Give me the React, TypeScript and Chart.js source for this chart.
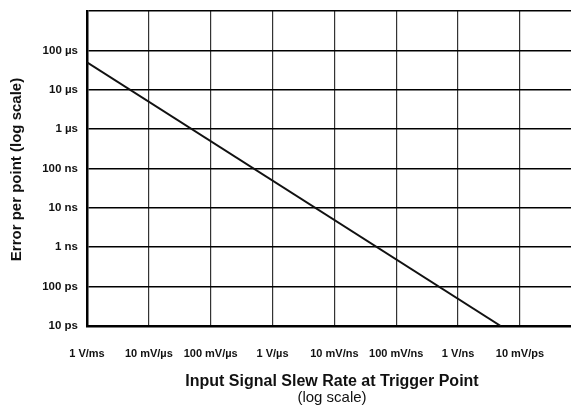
import React, { useEffect, useRef } from "react";
import { Chart, registerables } from "chart.js";

Chart.register(...registerables);

// Data (log-log straight line)
const slewRates = [1e3, 4.9e9]; // V/s
const errorPerPoint = [5e-5, 1e-11]; // s

// Axis tick positions and labels
const xTickValues = [1e3, 1e4, 1e5, 1e6, 1e7, 1e8, 1e9, 1e10];
const xTickLabels = ["1 V/ms", "10 mV/\u00b5s", "100 mV/\u00b5s", "1 V/\u00b5s", "10 mV/ns", "100 mV/ns", "1 V/ns", "10 mV/ps"];
const yTickValues = [1e-11, 1e-10, 1e-9, 1e-8, 1e-7, 1e-6, 1e-5, 1e-4, 1e-3];
const yTickLabels = ["10 ps", "100 ps", "1 ns", "10 ns", "100 ns", "1 \u00b5s", "10 \u00b5s", "100 \u00b5s", ""];

const xMin = 1e3;
const xMax = 6.7e10;
const yMin = 1e-11;
const yMax = 1e-3;

const xTitle = "Input Signal Slew Rate at Trigger Point";
const xSubTitle = "(log scale)";
const yTitle = "Error per point (log scale)";

const FONT = "'Liberation Sans', Arial, Helvetica, sans-serif";

const titlePlugin = {
  id: "titles",
  afterDraw(chart: any) {
    const ctx = chart.ctx;
    const area = chart.chartArea;
    ctx.save();
    ctx.fillStyle = "#111";
    ctx.textAlign = "center";
    ctx.textBaseline = "middle";
    const cx = 332;
    ctx.font = `bold 16px ${FONT}`;
    ctx.fillText(xTitle, cx, 382);
    ctx.font = `15px ${FONT}`;
    ctx.fillText(xSubTitle, cx, 398);
    ctx.translate(17, (area.top + area.bottom) / 2 + 1);
    ctx.rotate(-Math.PI / 2);
    ctx.font = `bold 15px ${FONT}`;
    ctx.fillText(yTitle, 0, 0);
    ctx.restore();
  },
};

export default function App() {
  const ref = useRef<HTMLCanvasElement>(null);
  useEffect(() => {
    document.body.style.margin = "0";
    const canvas = ref.current!;
    const chart = new Chart(canvas, {
      type: "line",
      data: {
        datasets: [
          {
            data: slewRates.map((x, i) => ({ x, y: errorPerPoint[i] })),
            borderColor: "#111",
            borderWidth: 2,
            pointRadius: 0,
            fill: false,
            tension: 0,
          },
        ],
      },
      options: {
        animation: false,
        responsive: false,
        maintainAspectRatio: false,
        layout: { padding: { top: 0, right: 0, left: 0, bottom: 0 } },
        plugins: { legend: { display: false }, tooltip: { enabled: false }, title: { display: false } },
        scales: {
          x: {
            type: "logarithmic",
            min: xMin,
            max: xMax,
            afterBuildTicks: (s: any) => {
              s.ticks = xTickValues.map((v) => ({ value: v }));
            },
            afterFit: (s: any) => {
              s.height = 81;
            },
            ticks: {
              autoSkip: false,
              maxRotation: 0,
              minRotation: 0,
              padding: 21,
              color: "#111",
              font: { family: FONT, size: 11, weight: "bold" },
              callback: (v: any, i: number) => xTickLabels[i],
            },
            grid: { color: "#333", lineWidth: 1.2, drawTicks: false },
            border: { display: true, color: "#000", width: 2.5 },
          },
          y: {
            type: "logarithmic",
            min: yMin,
            max: yMax,
            afterBuildTicks: (s: any) => {
              s.ticks = yTickValues.map((v) => ({ value: v }));
            },
            afterFit: (s: any) => {
              s.width = 87;
              s.paddingTop = 11;
              s.paddingBottom = 0;
            },
            ticks: {
              autoSkip: false,
              padding: 9,
              color: "#111",
              font: { family: FONT, size: 11.5, weight: "bold" },
              callback: (v: any, i: number) => yTickLabels[i],
            },
            grid: { color: "#000", lineWidth: 1.6, drawTicks: false },
            border: { display: true, color: "#000", width: 2.5 },
          },
        },
      },
      plugins: [titlePlugin],
    } as any);
    return () => chart.destroy();
  }, []);
  return (
    <div style={{ width: 571, height: 407, background: "#fff" }}>
      <canvas ref={ref} width={571} height={407} style={{ display: "block", width: 571, height: 407 }} />
    </div>
  );
}
